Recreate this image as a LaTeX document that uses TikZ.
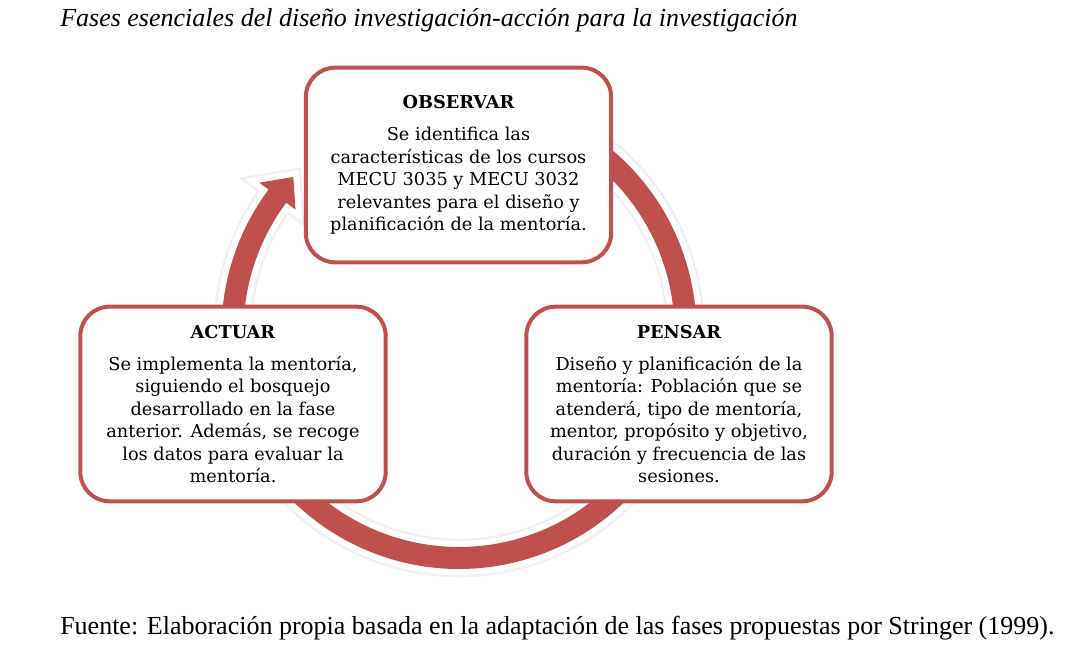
\documentclass[tikz,border=0pt]{standalone}
\usepackage{fontspec}
\setmainfont{Liberation Serif}
\newfontfamily\cajafont{DejaVu Serif}
\definecolor{rojo}{RGB}{192,80,77}

\begin{document}
\begin{tikzpicture}[x=0.75pt,y=0.75pt,
  fase/.style={draw=rojo,line width=3pt,fill=white,rounded corners=22pt,minimum width=229pt,minimum height=146pt,inner sep=0pt,align=center,font=\cajafont\fontsize{13.3}{16.9}\selectfont},
  flecha/.style={fill=rojo,preaction={draw=black!6,line width=12.5pt},preaction={draw=white,fill=white,line width=9pt}},
  texto/.style={anchor=base west,inner sep=0pt,font=\fontsize{19.5}{23}\selectfont}]
\useasboundingbox (0,0) rectangle (1065,655);
\coordinate (centro) at (459,323.5);
% flechas del ciclo
\foreach \a/\t in {70/-3,-42/-152,195/137}{
  \pgfmathsetmacro{\angbase}{\t+6.3}
  \fill[flecha,shift={(centro)}] (\a:237.5) arc[start angle=\a,end angle=\angbase,radius=237.5] -- (\angbase:249) -- (\t:226.5) -- (\angbase:204) -- (\angbase:215.5) arc[start angle=\angbase,end angle=\a,radius=215.5] -- cycle;
}
% fases
\node[fase] (observar) at (458.5,490) {\textbf{OBSERVAR}\\[7pt]Se identifica las\\características de los cursos\\MECU 3035 y MECU 3032\\relevantes para el diseño y\\planificación de la mentoría.};
\node[fase] (pensar) at (679,251) {\textbf{PENSAR}\\[7pt]Diseño y planificación de la\\mentoría: Población que se\\atenderá, tipo de mentoría,\\mentor, propósito y objetivo,\\duración y frecuencia de las\\sesiones.};
\node[fase] (actuar) at (233,251) {\textbf{ACTUAR}\\[7pt]Se implementa la mentoría,\\siguiendo el bosquejo\\desarrollado en la fase\\anterior. Además, se recoge\\los datos para evaluar la\\mentoría.};
\node[texto,font=\fontsize{19.5}{23}\selectfont\itshape] (titulo) at (60,628) {Fases esenciales del diseño investigación-acción para la investigación};
\node[texto] (fuente) at (60,20) {Fuente: Elaboración propia basada en la adaptación de las fases propuestas por Stringer (1999).};
\end{tikzpicture}
\end{document}
